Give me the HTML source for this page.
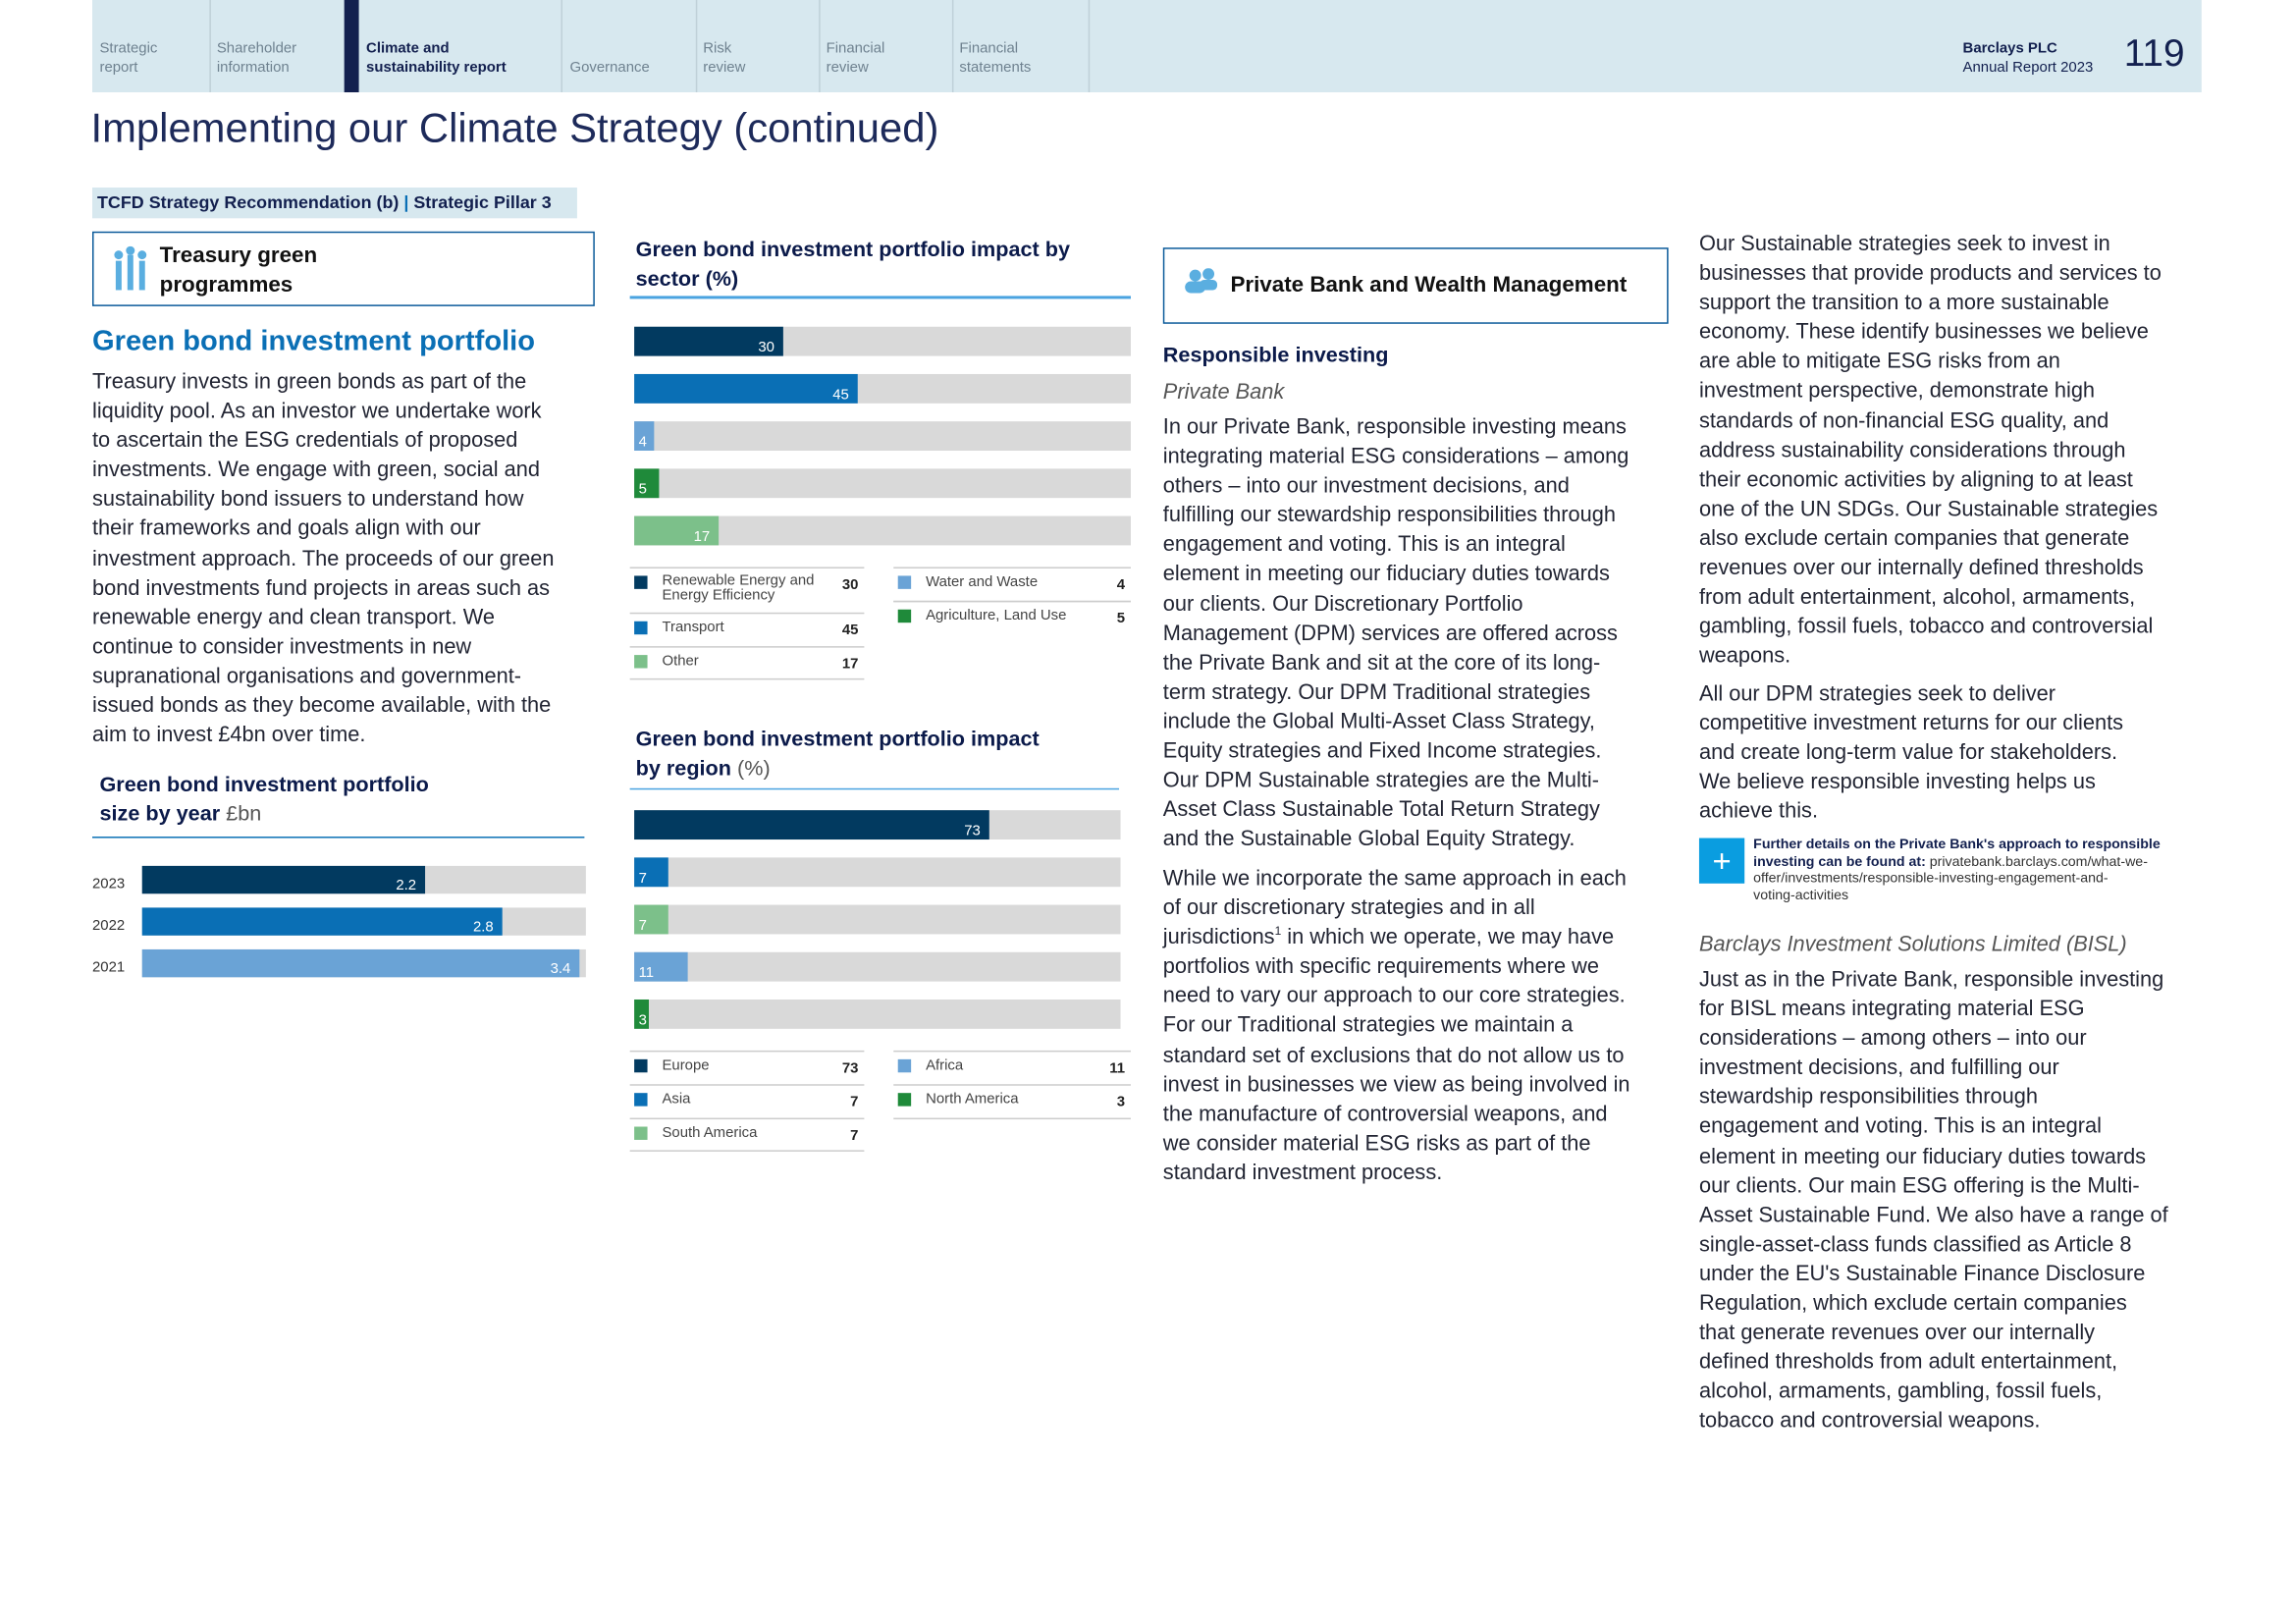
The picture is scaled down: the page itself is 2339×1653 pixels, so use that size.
<!DOCTYPE html>
<html><head><meta charset="utf-8"><style>
html,body{margin:0;padding:0;background:#fff;}
body{width:2339px;height:1653px;overflow:hidden;font-family:"Liberation Sans",sans-serif;}
#page{position:absolute;left:0;top:0;width:1560px;height:1103px;transform:scale(1.4922);transform-origin:0 0;color:#1c2238;}
.a{position:absolute;}
.nav{left:63px;top:0;width:1440px;height:63px;background:#d7e8ef;}
.tab{position:absolute;top:27px;font-size:10px;line-height:13px;color:#6f8290;}
.sep{position:absolute;top:0;width:1px;height:63px;background:#bfd0d8;}
.body{font-size:14.6px;line-height:20.1px;color:#222533;white-space:nowrap;}
.h{color:#0b1a4a;font-weight:bold;}
sup{line-height:0;font-size:8px;}
</style></head><body>
<div id="page">
<div class="a nav">
 <div class="tab" style="left:5px">Strategic<br>report</div>
 <div class="sep" style="left:80px"></div>
 <div class="tab" style="left:85px">Shareholder<br>information</div>
 <div class="a" style="left:172px;top:0;width:10px;height:63px;background:#13204f"></div>
 <div class="tab" style="left:187px;color:#13204f;font-weight:bold">Climate and<br>sustainability report</div>
 <div class="sep" style="left:320px"></div>
 <div class="tab" style="left:326px;top:40px">Governance</div>
 <div class="sep" style="left:412px"></div>
 <div class="tab" style="left:417px">Risk<br>review</div>
 <div class="sep" style="left:496px"></div>
 <div class="tab" style="left:501px">Financial<br>review</div>
 <div class="sep" style="left:587px"></div>
 <div class="tab" style="left:592px">Financial<br>statements</div>
 <div class="sep" style="left:680px"></div>
 <div class="tab" style="left:1277px;color:#13204f"><b>Barclays PLC</b><br>Annual Report 2023</div>
 <div class="a" style="left:1387px;top:21px;font-size:26px;color:#13204f">119</div>
</div>
<div class="a" style="left:62px;top:72px;font-size:28px;color:#1d2a5a;white-space:nowrap">Implementing our Climate Strategy (continued)</div>
<div class="a" style="left:63px;top:128px;width:331px;height:21px;background:#d7e8ef;font-size:12px;line-height:21px;color:#13204f;font-weight:bold;white-space:nowrap">&nbsp;TCFD Strategy Recommendation (b) <span style="color:#0a6fb5">|</span> Strategic Pillar 3</div>

<div class="a" style="left:63px;top:158px;width:343px;height:51px;border:1px solid #0a5a9a;box-sizing:border-box">
 <svg class="a" style="left:13px;top:9px" width="26" height="32"><g fill="#5aaee0"><rect x="2" y="10" width="4" height="20"/><rect x="10" y="6" width="4" height="24"/><rect x="18" y="10" width="4" height="20"/><circle cx="4" cy="6" r="3"/><circle cx="12" cy="3" r="3"/><circle cx="20" cy="6" r="3"/></g></svg>
 <div class="a h" style="left:45px;top:6px;font-size:15px;line-height:20px;color:#111">Treasury green<br>programmes</div>
</div>
<div class="a" style="left:63px;top:222px;font-size:19.5px;font-weight:bold;color:#0a6fb5">Green bond investment portfolio</div>
<div class="a body" style="left:63px;top:251px">Treasury invests in green bonds as part of the<br>liquidity pool. As an investor we undertake work<br>to ascertain the ESG credentials of proposed<br>investments. We engage with green, social and<br>sustainability bond issuers to understand how<br>their frameworks and goals align with our<br>investment approach. The proceeds of our green<br>bond investments fund projects in areas such as<br>renewable energy and clean transport. We<br>continue to consider investments in new<br>supranational organisations and government-<br>issued bonds as they become available, with the<br>aim to invest £4bn over time.</div>
<div class="a h" style="left:68px;top:526px;font-size:14.5px;line-height:20px">Green bond investment portfolio<br>size by year <span style="font-weight:normal;color:#555">£bn</span></div>
<div class="a" style="left:63px;top:571px;width:336px;height:1px;background:#0a6fb5"></div>
<svg class="a" id="yearChart" style="left:0;top:0" width="420" height="700"></svg>

<div class="a h" style="left:434px;top:161px;font-size:14.5px;line-height:20px">Green bond investment portfolio impact by<br>sector (%)</div>
<div class="a" style="left:430px;top:202px;width:342px;height:2px;background:#4aa3e0"></div>
<svg class="a" id="sectorChart" style="left:0;top:0" width="800" height="480"></svg>
<div class="a h" style="left:434px;top:495px;font-size:14.5px;line-height:20px">Green bond investment portfolio impact<br>by region <span style="font-weight:normal;color:#555">(%)</span></div>
<div class="a" style="left:430px;top:538px;width:334px;height:1px;background:#4aa3e0"></div>
<svg class="a" id="regionChart" style="left:0;top:0" width="800" height="800"></svg>

<div class="a" style="left:794px;top:169px;width:345px;height:52px;border:1px solid #0a5a9a;box-sizing:border-box">
 <svg class="a" style="left:13px;top:13px" width="24" height="18"><g fill="#5aaee0"><circle cx="8" cy="5" r="4"/><circle cx="17" cy="4" r="4"/><rect x="1" y="9" width="14" height="8" rx="4"/><rect x="11" y="8" width="12" height="7" rx="3"/></g></svg>
 <div class="a h" style="left:45px;top:16px;font-size:15px;color:#111;white-space:nowrap">Private Bank and Wealth Management</div>
</div>
<div class="a h" style="left:794px;top:235px;font-size:14.5px">Responsible investing</div>
<div class="a body" style="left:794px;top:258px;font-style:italic;color:#555">Private Bank</div>
<div class="a body" style="left:794px;top:282px">In our Private Bank, responsible investing means<br>integrating material ESG considerations – among<br>others – into our investment decisions, and<br>fulfilling our stewardship responsibilities through<br>engagement and voting. This is an integral<br>element in meeting our fiduciary duties towards<br>our clients. Our Discretionary Portfolio<br>Management (DPM) services are offered across<br>the Private Bank and sit at the core of its long-<br>term strategy. Our DPM Traditional strategies<br>include the Global Multi-Asset Class Strategy,<br>Equity strategies and Fixed Income strategies.<br>Our DPM Sustainable strategies are the Multi-<br>Asset Class Sustainable Total Return Strategy<br>and the Sustainable Global Equity Strategy.</div>
<div class="a body" style="left:794px;top:590px">While we incorporate the same approach in each<br>of our discretionary strategies and in all<br>jurisdictions<sup>1</sup> in which we operate, we may have<br>portfolios with specific requirements where we<br>need to vary our approach to our core strategies.<br>For our Traditional strategies we maintain a<br>standard set of exclusions that do not allow us to<br>invest in businesses we view as being involved in<br>the manufacture of controversial weapons, and<br>we consider material ESG risks as part of the<br>standard investment process.</div>

<div class="a body" style="left:1160px;top:157px">Our Sustainable strategies seek to invest in<br>businesses that provide products and services to<br>support the transition to a more sustainable<br>economy. These identify businesses we believe<br>are able to mitigate ESG risks from an<br>investment perspective, demonstrate high<br>standards of non-financial ESG quality, and<br>address sustainability considerations through<br>their economic activities by aligning to at least<br>one of the UN SDGs. Our Sustainable strategies<br>also exclude certain companies that generate<br>revenues over our internally defined thresholds<br>from adult entertainment, alcohol, armaments,<br>gambling, fossil fuels, tobacco and controversial<br>weapons.</div>
<div class="a body" style="left:1160px;top:464px">All our DPM strategies seek to deliver<br>competitive investment returns for our clients<br>and create long-term value for stakeholders.<br>We believe responsible investing helps us<br>achieve this.</div>
<div class="a" style="left:1160px;top:572px;width:31px;height:31px;background:#0a9de0;color:#fff;font-size:22px;line-height:31px;text-align:center">+</div>
<div class="a" style="left:1197px;top:571px;font-size:9.5px;line-height:11.5px;color:#333;white-space:nowrap"><b style="color:#13204f">Further details on the Private Bank's approach to responsible<br>investing can be found at:</b> privatebank.barclays.com/what-we-<br>offer/investments/responsible-investing-engagement-and-<br>voting-activities</div>
<div class="a body" style="left:1160px;top:635px;font-style:italic;color:#555">Barclays Investment Solutions Limited (BISL)</div>
<div class="a body" style="left:1160px;top:659px">Just as in the Private Bank, responsible investing<br>for BISL means integrating material ESG<br>considerations – among others – into our<br>investment decisions, and fulfilling our<br>stewardship responsibilities through<br>engagement and voting. This is an integral<br>element in meeting our fiduciary duties towards<br>our clients. Our main ESG offering is the Multi-<br>Asset Sustainable Fund. We also have a range of<br>single-asset-class funds classified as Article 8<br>under the EU's Sustainable Finance Disclosure<br>Regulation, which exclude certain companies<br>that generate revenues over our internally<br>defined thresholds from adult entertainment,<br>alcohol, armaments, gambling, fossil fuels,<br>tobacco and controversial weapons.</div>
</div>
<script>
// ----- data -----
const yearCategories = ['2023','2022','2021'];
const yearValues = [2.2, 2.8, 3.4];
const yearColors = ['#023a60','#0a6fb5','#6aa3d6'];
const sectorCategories = ['Renewable Energy and Energy Efficiency','Transport','Water and Waste','Agriculture, Land Use','Other'];
const sectorValues = [30, 45, 4, 5, 17];
const sectorColors = ['#023a60','#0a6fb5','#6aa3d6','#1f8a3a','#7cc08a'];
const regionCategories = ['Europe','Asia','South America','Africa','North America'];
const regionValues = [73, 7, 7, 11, 3];
const regionColors = ['#023a60','#0a6fb5','#7cc08a','#6aa3d6','#1f8a3a'];
const NS='http://www.w3.org/2000/svg';
function mk(svg,tag,attrs,text){const e=document.createElementNS(NS,tag);for(const k in attrs)e.setAttribute(k,attrs[k]);if(text!==undefined)e.textContent=text;svg.appendChild(e);return e;}
function drawBars(svg,cats,vals,cols,x0,w,max,top,step,h,name,labelLeft){
  const xs=v=>x0+v/max*w;
  cats.forEach((c,i)=>{
    const y=top+i*step;
    const track=mk(svg,'rect',{x:x0,y:y,width:w,height:h,fill:'#d9d9d9'});
    
    
    const bw=xs(vals[i])-x0;
    const bar=mk(svg,'rect',{x:x0,y:y,width:bw,height:h,fill:cols[i]});
    
    
    const small=bw<40;
    const t=mk(svg,'text',{x:small?x0+3:x0+bw-6,y:y+h-3,'font-size':10,fill:'#fff','text-anchor':small?'start':'end','font-family':'Liberation Sans'},vals[i]);
    
    
    if(labelLeft){const l=mk(svg,'text',{x:63,y:y+h-4,'font-size':10,fill:'#333','font-family':'Liberation Sans'},c);
      
      }
  });
}
function legend(svg,cats,vals,cols,order,top,name){
  order.forEach((o)=>{
    const i=o[0],col=o[1],row=o[2],two=o[3];
    const x=col?610:430, w=col?162:160, y=top+row*23;
    mk(svg,'rect',{x:x,y:y,width:w,height:1,fill:'#ccc'});
    mk(svg,'rect',{x:x+3,y:y+6,width:9,height:9,fill:cols[i]});
    const lab=mk(svg,'text',{x:x+22,y:y+13,'font-size':10,fill:'#444','font-family':'Liberation Sans'});
    
    
    if(two){const p=cats[i].split(' Energy Eff');mk(lab,'tspan',{x:x+22,y:y+12},p[0]);mk(lab,'tspan',{x:x+22,y:y+22},'Energy Eff'+p[1]);}
    else lab.textContent=cats[i];
    mk(svg,'text',{x:x+w-4,y:y+15,'font-size':10,'font-weight':'bold',fill:'#222','text-anchor':'end','font-family':'Liberation Sans'},vals[i]);
  });
}
const yc=document.getElementById('yearChart');
drawBars(yc,yearCategories,yearValues,yearColors,97,303,3.45,591,28.5,19,'year',true);
const sc=document.getElementById('sectorChart');
drawBars(sc,sectorCategories,sectorValues,sectorColors,433,339,100,223,32.3,20,'sector',false);
legend(sc,sectorCategories,sectorValues,sectorColors,[[0,0,0,1],[1,0,1.35,0],[4,0,2.35,0],[2,1,0,0],[3,1,1,0]],387,'sector');
mk(sc,'rect',{x:430,y:463,width:160,height:1,fill:'#ccc'});
mk(sc,'rect',{x:610,y:410,width:162,height:1,fill:'#ccc'});
const rc=document.getElementById('regionChart');
drawBars(rc,regionCategories,regionValues,regionColors,433,332,100,553,32.3,20,'region',false);
legend(rc,regionCategories,regionValues,regionColors,[[0,0,0,0],[1,0,1,0],[2,0,2,0],[3,1,0,0],[4,1,1,0]],717,'region');
mk(rc,'rect',{x:430,y:785,width:160,height:1,fill:'#ccc'});
mk(rc,'rect',{x:610,y:763,width:162,height:1,fill:'#ccc'});
</script>
</body></html>
